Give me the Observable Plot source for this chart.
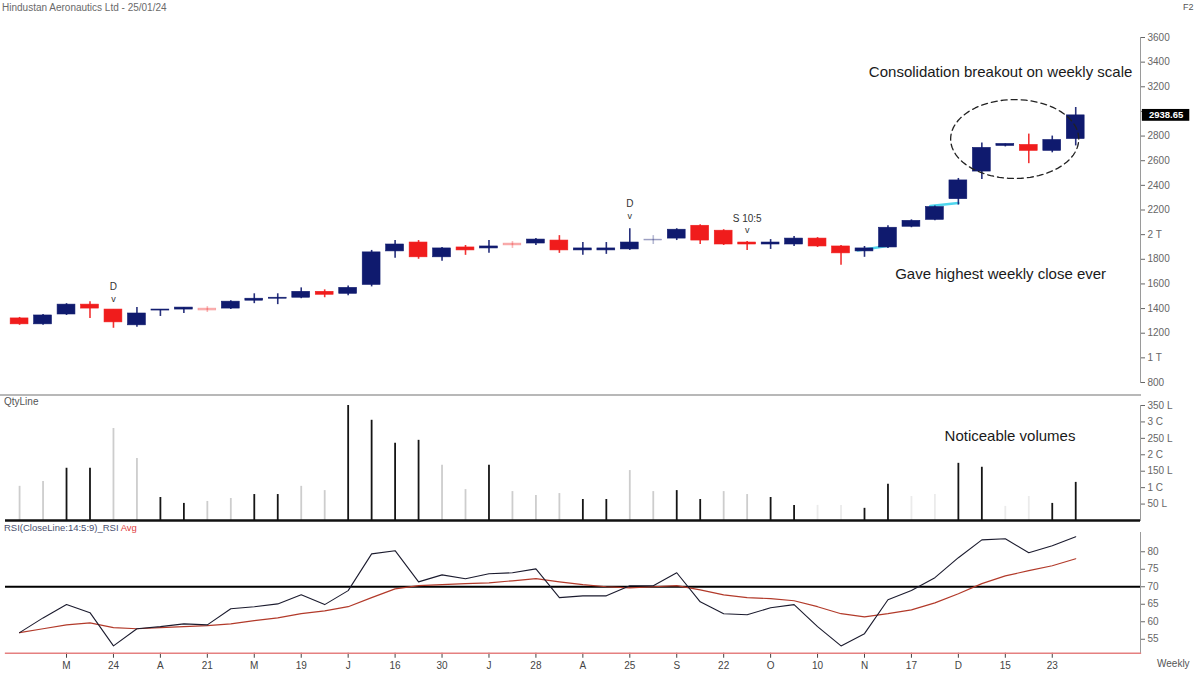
<!DOCTYPE html>
<html><head><meta charset="utf-8">
<script src="https://cdn.jsdelivr.net/npm/d3@7"></script>
<script src="https://cdn.jsdelivr.net/npm/@observablehq/plot@0.6"></script>
<style>
body{margin:0;background:#fff;font-family:"Liberation Sans",Arial,sans-serif;}
#wrap{position:relative;width:1198px;height:675px;overflow:hidden;background:#fff}
.panel{position:absolute;left:0}
.lbl{position:absolute;font-size:10px;color:#666;white-space:nowrap;z-index:5}
.sep{position:absolute;left:0;width:1141px;height:2px;background:#b8b8b8;z-index:4}
</style></head>
<body><div id="wrap"></div>
<script>
// ---------- data ----------
const title = "Hindustan Aeronautics Ltd - 25/01/24";
const open  = [1320,1272,1352,1432,1392,1264,1384,1392,1400,1400,1464,1480,1488,1536,1520,1592,1864,1936,1816,1896,1888,1928,1928,1952,1872,1872,1880,1952,1968,2072,2032,1936,1920,1920,1968,1904,1864,1896,2064,2120,2288,2512,2720,2728,2680,2776];
const high  = [1328,1352,1440,1456,1392,1408,1392,1408,1416,1464,1520,1520,1568,1552,1584,1872,1952,1952,1896,1912,1952,1944,1968,1992,1936,1936,2048,1992,2048,2080,2040,1944,1960,1984,1976,1912,1904,2072,2120,2232,2456,2744,2736,2816,2800,3032];
const low   = [1264,1264,1344,1320,1240,1248,1336,1360,1368,1392,1440,1432,1480,1488,1504,1576,1808,1800,1784,1832,1848,1888,1912,1848,1832,1840,1872,1920,1952,1920,1912,1872,1880,1904,1896,1752,1816,1888,2056,2112,2240,2448,2712,2576,2664,2720];
const close = [1272,1344,1432,1400,1288,1360,1392,1408,1384,1456,1480,1488,1536,1512,1568,1856,1920,1816,1888,1872,1904,1912,1960,1872,1888,1888,1936,1960,2040,1952,1920,1920,1936,1968,1904,1848,1888,2056,2112,2224,2440,2704,2736,2680,2768,2968];
const fadedWeeks = [8,21,27];
const lastPriceLabel = "2938.65";

const volume = [104,119,159,159,280,189,70,52,58,67,79,79,104,91,350,305,235,244,168,94,168,88,76,82,64,64,152,88,91,64,88,79,70,46,46,46,37,110,73,79,174,162,43,73,52,116];
const volTone = ["light","light","dark","dark","light","light","dark","dark","light","light","dark","dark","light","light","dark","dark","dark","dark","light","light","dark","light","light","light","dark","dark","light","light","dark","dark","light","light","dark","dark","faint","faint","dark","dark","faint","faint","dark","dark","faint","faint","dark","dark"];

const rsi    = [56.9,61.1,64.9,62.6,53.1,58,58.6,59.4,59.1,63.7,64.3,65.1,67.7,64.9,68.9,79.4,80.3,71.4,73.4,72.3,73.7,74,75.1,66.9,67.4,67.4,70.3,70.3,74,65.7,62.3,62,64,64.9,58.6,53.1,56.6,66.3,68.9,72.6,78.3,83.4,83.7,79.7,81.7,84.3];
const rsiAvg = [56.9,58,59.1,59.7,58.3,58,58.3,58.6,58.9,59.4,60.3,61.1,62.3,63.1,64.3,66.9,69.4,70.3,70.6,70.9,71.1,71.7,72.3,71.4,70.6,70,69.7,70,70.3,69.1,67.7,66.9,66.6,66,64.3,62.3,61.4,62.3,63.4,65.4,68,70.9,73.1,74.6,76,78];
const rsiLevel = 70;

const tickWeeks  = [2,4,6,8,10,12,14,16,18,20,22,24,26,28,30,32,34,36,38,40,42,44];
const tickLabels = ["M","24","A","21","M","19","J","16","30","J","28","A","25","S","22","O","10","N","17","D","15","23"];

const priceTicks  = [800,1000,1200,1400,1600,1800,2000,2200,2400,2600,2800,3000,3200,3400,3600];
const priceLabels = ["800","1 T","1200","1400","1600","1800","2 T","2200","2400","2600","2800","","3200","3400","3600"];
const volTicks  = [50,100,150,200,250,300,350];
const volLabels = ["50 L","1 C","150 L","2 C","250 L","3 C","350 L"];
const rsiTicks  = [55,60,65,70,75,80];

const markers = [
  {week:4,  label:"D",      price:1480},
  {week:26, label:"D",      price:2150},
  {week:31, label:"S 10:5", price:2035}
];
const cyanTrail = [
  {seg:1, week:35.7, price:1872},{seg:1, week:37.1, price:1912},
  {seg:2, week:38.8, price:2232},{seg:2, week:40.0, price:2256}
];
const breakoutZone = {week:42.4, price:2776, rWeeks:2.73, rPrice:320};
const notes = [
  {week:41.8, price:3320, text:"Consolidation breakout on weekly scale"},
  {week:41.8, price:1680, text:"Gave highest weekly close ever"}
];
const volNote = {week:42.2, vol:256, text:"Noticeable volumes"};

// ---------- build ----------
const xDomain = [-0.6, 47.76];
const UP = "#0f1a6e", DOWN = "#f01c1c";
const candles = open.map((o,i)=>({week:i, open:o, high:high[i], low:low[i], close:close[i],
  up: close[i] >= o, faded: fadedWeeks.includes(i)}));
const vols = volume.map((v,i)=>({week:i, vol:v, tone:volTone[i]}));
const rsiRows = rsi.map((v,i)=>({week:i, rsi:v, avg:rsiAvg[i]}));
const tickMap = new Map(tickWeeks.map((w,i)=>[w,tickLabels[i]]));
const pMap = new Map(priceTicks.map((t,i)=>[t,priceLabels[i]]));
const vMap = new Map(volTicks.map((t,i)=>[t,volLabels[i]]));
const last = candles[candles.length-1];
const ellipse = d3.range(0, 361, 4).map(a=>({
  week: breakoutZone.week + breakoutZone.rWeeks*Math.cos(a*Math.PI/180),
  price: breakoutZone.price + breakoutZone.rPrice*Math.sin(a*Math.PI/180)}));

const baseStyle = {fontFamily:"'Liberation Sans', Arial, sans-serif", fontSize:"10px", background:"transparent", overflow:"visible"};
const wrap = document.getElementById("wrap");
function place(el, top){ el.classList.add("panel"); el.style.top = top+"px"; wrap.appendChild(el); }

// price panel
const price = Plot.plot({
  width:1198, height:395, marginLeft:5, marginRight:58, marginTop:37, marginBottom:13,
  style: baseStyle,
  x:{type:"linear", domain:xDomain, axis:null, label:null},
  y:{domain:[800,3600], axis:null, label:null},
  marks:[
    Plot.frame({anchor:"right", stroke:"#9a9a9a"}),
    Plot.axisY(priceTicks, {anchor:"right", label:null, tickSize:4, tickPadding:3, tickFormat:d=>pMap.get(d), color:"#666", fontSize:10}),
    Plot.line(cyanTrail, {x:"week", y:"price", z:"seg", stroke:"#4fd6ee", strokeWidth:2.5}),
    Plot.ruleX(candles, {x:"week", y1:"low", y2:"high", stroke:d=>d.up?UP:DOWN, strokeOpacity:d=>d.faded?0.3:0.9, strokeWidth:1.6}),
    Plot.rect(candles, {x1:d=>d.week-0.38, x2:d=>d.week+0.38, y1:d=>Math.min(d.open,d.close), y2:d=>Math.max(d.open,d.close),
      fill:d=>d.up?UP:DOWN, stroke:d=>d.up?UP:DOWN, strokeWidth:0.6, fillOpacity:d=>d.faded?0.3:1, strokeOpacity:d=>d.faded?0.3:1}),
    Plot.line(ellipse, {x:"week", y:"price", stroke:"#222", strokeWidth:1.3, strokeDasharray:"6,4"}),
    Plot.text(markers, {x:"week", y:"price", text:d=>d.label, dy:-12, fill:"#333", fontSize:10}),
    Plot.text(markers, {x:"week", y:"price", text:()=>"v", fill:"#333", fontSize:9}),
    Plot.text(notes, {x:"week", y:"price", text:"text", fill:"#1a1a1a", fontSize:15}),
    Plot.rect([last], {x1:xDomain[1]+0.08, x2:xDomain[1]+2.1, y1:d=>d.close-48, y2:d=>d.close+48, fill:"#000"}),
    Plot.text([last], {x:xDomain[1]+1.09, y:"close", text:()=>lastPriceLabel, fill:"#fff", fontSize:9.5, fontWeight:"bold"})
  ]
});
place(price, 0);

// volume panel
const toneColor = {dark:"#151515", light:"#cdcdcd", faint:"#ebebeb"};
const vol = Plot.plot({
  width:1198, height:128, marginLeft:5, marginRight:58, marginTop:10, marginBottom:3,
  style: baseStyle,
  x:{type:"linear", domain:xDomain, axis:null, label:null},
  y:{domain:[0,350], axis:null, label:null},
  marks:[
    Plot.frame({anchor:"right", stroke:"#9a9a9a"}),
    Plot.axisY(volTicks, {anchor:"right", label:null, tickSize:4, tickPadding:3, tickFormat:d=>vMap.get(d), color:"#666", fontSize:10}),
    Plot.ruleX(vols, {x:"week", y1:0, y2:"vol", stroke:d=>toneColor[d.tone], strokeWidth:1.8}),
    Plot.ruleY([0], {stroke:"#111", strokeWidth:2.5}),
    Plot.text([volNote], {x:"week", y:"vol", text:"text", fill:"#1a1a1a", fontSize:15})
  ]
});
place(vol, 395);

// RSI panel
const rsiPlot = Plot.plot({
  width:1198, height:145, marginLeft:5, marginRight:58, marginTop:2, marginBottom:22.25,
  style: baseStyle,
  x:{type:"linear", domain:xDomain, label:null},
  y:{domain:[51,85.5], label:null},
  marks:[
    Plot.frame({anchor:"right", stroke:"#9a9a9a"}),
    Plot.axisY(rsiTicks, {anchor:"right", label:null, tickSize:4, tickPadding:3, color:"#666", fontSize:10}),
    Plot.axisX(tickWeeks, {anchor:"bottom", label:null, tickSize:5, tickPadding:4, tickFormat:d=>tickMap.get(d), color:"#444", fontSize:10}),
    Plot.frame({anchor:"bottom", stroke:"#e58080", strokeWidth:1.3}),
    Plot.ruleY([rsiLevel], {stroke:"#000", strokeWidth:2}),
    Plot.line(rsiRows, {x:"week", y:"avg", stroke:"#b23a2a", strokeWidth:1.2}),
    Plot.line(rsiRows, {x:"week", y:"rsi", stroke:"#1b1b2e", strokeWidth:1.1})
  ]
});
place(rsiPlot, 530);

// overlay labels
function lbl(html, left, top, extra){ const d=document.createElement("div"); d.className="lbl"; d.innerHTML=html; d.style.left=left+"px"; d.style.top=top+"px"; if(extra) Object.assign(d.style, extra); wrap.appendChild(d); }
const sep = document.createElement("div"); sep.className="sep"; sep.style.top="394px"; wrap.appendChild(sep);
lbl(title, 2, 2, {fontSize:"10px", color:"#6a6a6a"});
lbl("F2", 1183, 2, {fontSize:"9px", color:"#555"});
lbl("QtyLine", 4, 396, {fontSize:"10px", color:"#555"});
lbl('RSI(CloseLine:14:5:9)_RSI <span style="color:#e04040">Avg</span>', 4, 522, {fontSize:"9.5px", color:"#4a5070"});
lbl("Weekly", 1157, 658, {fontSize:"10px", color:"#555"});
</script>
</body></html>
